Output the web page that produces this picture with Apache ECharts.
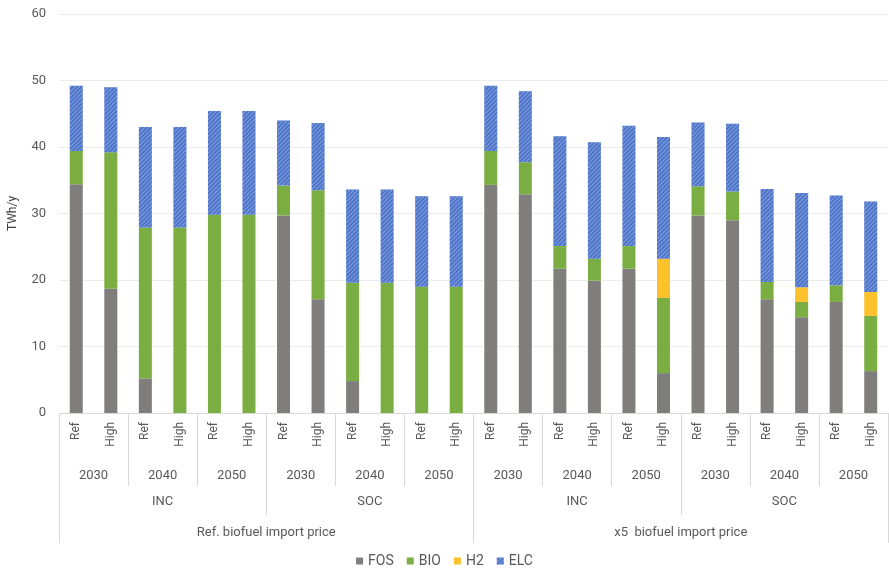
<!DOCTYPE html>
<html>
<head>
    <meta charset="utf-8"/>
    <title>TWh/y by scenario</title>
    <script src="https://cdn.jsdelivr.net/npm/echarts@6/dist/echarts.min.js"></script>
    <style>
        html, body { margin: 0; padding: 0; background: #fff; }
        #main { width: 889px; height: 573px; }
    </style>
</head>
<body>
<div id="main"></div>
<script>
    // 类目（四级）
    var cases = ['Ref', 'High', 'Ref', 'High', 'Ref', 'High', 'Ref', 'High', 'Ref', 'High', 'Ref', 'High',
                 'Ref', 'High', 'Ref', 'High', 'Ref', 'High', 'Ref', 'High', 'Ref', 'High', 'Ref', 'High'];
    var years = ['2030', '2040', '2050', '2030', '2040', '2050', '2030', '2040', '2050', '2030', '2040', '2050'];
    var scenarios = ['INC', 'SOC', 'INC', 'SOC'];
    var priceGroups = ['Ref. biofuel import price', 'x5  biofuel import price'];

    // 数值 (TWh/y)
    var fos = [34.4, 18.7, 5.2, 0, 0, 0, 29.7, 17.1, 4.8, 0, 0, 0,
               34.3, 32.9, 21.7, 19.9, 21.7, 6.0, 29.7, 29.0, 17.1, 14.4, 16.7, 6.3];
    var bio = [5.0, 20.5, 22.7, 27.9, 29.8, 29.8, 4.5, 16.4, 14.8, 19.6, 19.0, 19.0,
               5.1, 4.8, 3.4, 3.3, 3.4, 11.3, 4.4, 4.3, 2.6, 2.3, 2.5, 8.3];
    var h2 = [0, 0, 0, 0, 0, 0, 0, 0, 0, 0, 0, 0,
              0, 0, 0, 0, 0, 5.9, 0, 0, 0, 2.2, 0, 3.6];
    var elc = [9.8, 9.8, 15.1, 15.1, 15.6, 15.6, 9.8, 10.1, 14.0, 14.0, 13.6, 13.6,
               9.8, 10.7, 16.5, 17.5, 18.1, 18.3, 9.6, 10.2, 14.0, 14.2, 13.5, 13.6];

    var textColor = '#595959';
    var lineColor = '#d9d9d9';

    function levelAxis(data, tickLen, labelMargin) {
        return {
            type: 'category',
            position: 'bottom',
            data: data,
            axisLine: {show: false},
            axisTick: {show: true, length: tickLen, lineStyle: {color: lineColor}},
            axisLabel: {margin: labelMargin, color: textColor, fontSize: 13, interval: 0},
            splitLine: {show: false}
        };
    }

    var myChart = echarts.init(document.getElementById('main'));
    var option = {
        animation: false,
        textStyle: {fontFamily: 'Roboto'},
        color: ['#807e7d', '#7bae42', '#fcc12b', '#4d74c8'],
        grid: {left: 59, right: 1, top: 14, bottom: 160, outerBoundsMode: 'none'},
        legend: {
            bottom: 0,
            left: 'center',
            icon: 'rect',
            itemWidth: 7,
            itemHeight: 7,
            itemGap: 13,
            textStyle: {color: textColor, fontSize: 14},
            data: ['FOS', 'BIO', 'H2', 'ELC']
        },
        xAxis: [
            {
                type: 'category',
                position: 'bottom',
                data: cases,
                axisLine: {show: true, lineStyle: {color: lineColor}},
                axisTick: {show: false},
                axisLabel: {rotate: 90, margin: 9, color: textColor, fontSize: 12, interval: 0}
            },
            levelAxis(years, 73, 56),
            levelAxis(scenarios, 102, 82),
            levelAxis(priceGroups, 130, 113)
        ],
        yAxis: {
            type: 'value',
            min: 0,
            max: 60,
            interval: 10,
            name: 'TWh/y',
            nameLocation: 'middle',
            nameRotate: 90,
            nameGap: 40,
            nameTextStyle: {color: '#404040', fontSize: 12},
            axisLine: {show: false},
            axisTick: {show: false},
            axisLabel: {color: textColor, fontSize: 13, margin: 13},
            splitLine: {lineStyle: {color: '#ececec'}}
        },
        series: [
            {name: 'FOS', type: 'bar', stack: 'a', barWidth: 13, data: fos},
            {name: 'BIO', type: 'bar', stack: 'a', barWidth: 13, data: bio},
            {name: 'H2', type: 'bar', stack: 'a', barWidth: 13, data: h2},
            {
                name: 'ELC', type: 'bar', stack: 'a', barWidth: 13, data: elc,
                itemStyle: {
                    decal: {
                        symbol: 'rect',
                        symbolSize: 1,
                        dashArrayX: [1, 0],
                        dashArrayY: [1, 2],
                        rotation: -Math.PI / 4,
                        color: 'rgba(170,195,240,0.55)'
                    }
                }
            }
        ]
    };
    myChart.setOption(option);

    window.onresize = function () {
        myChart.resize();
    };
</script>
</body>
</html>
